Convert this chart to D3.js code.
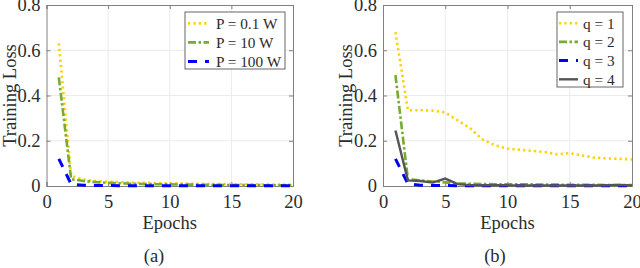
<!DOCTYPE html>
<html>
<head>
<meta charset="utf-8">
<script src="https://cdn.jsdelivr.net/npm/d3@7"></script>
<style>
  body { margin: 0; background: white; }
  text { font-family: "Liberation Serif", "Times New Roman", serif; fill: #2b2b2b; }
</style>
</head>
<body>
<svg id="chart" width="640" height="268"></svg>
<script>
// epochs on x axis
let epochs = d3.range(1, 21);
let xTicks = [0, 5, 10, 15, 20];
let yTicks = [0, 0.2, 0.4, 0.6, 0.8];

// panel (a) series
let lossP01 = [0.63, 0.045, 0.028, 0.022, 0.019, 0.017, 0.015, 0.014, 0.013, 0.012, 0.011, 0.010, 0.009, 0.009, 0.008, 0.008, 0.007, 0.007, 0.006, 0.006];
let lossP10 = [0.48, 0.030, 0.022, 0.017, 0.014, 0.012, 0.010, 0.009, 0.008, 0.007, 0.006, 0.006, 0.005, 0.005, 0.004, 0.004, 0.004, 0.003, 0.003, 0.003];
let lossP100 = [0.12, 0.008, 0.003, 0.002, 0.002, 0.001, 0.001, 0.001, 0.001, 0.001, 0.001, 0.001, 0.001, 0.001, 0.001, 0.001, 0.001, 0.001, 0.001, 0.001];

// panel (b) series
let lossQ1 = [0.68, 0.335, 0.335, 0.333, 0.325, 0.29, 0.255, 0.205, 0.18, 0.165, 0.16, 0.155, 0.15, 0.14, 0.145, 0.135, 0.125, 0.122, 0.12, 0.117];
let lossQ2 = [0.49, 0.030, 0.025, 0.020, 0.016, 0.011, 0.010, 0.009, 0.008, 0.008, 0.007, 0.007, 0.006, 0.006, 0.005, 0.005, 0.005, 0.004, 0.004, 0.004];
let lossQ3 = [0.12, 0.010, 0.003, 0.002, 0.002, 0.001, 0.001, 0.001, 0.001, 0.001, 0.001, 0.001, 0.001, 0.001, 0.001, 0.001, 0.001, 0.001, 0.001, 0.001];
let lossQ4 = [0.245, 0.025, 0.022, 0.015, 0.033, 0.008, 0.004, 0.003, 0.003, 0.003, 0.002, 0.002, 0.002, 0.002, 0.002, 0.002, 0.002, 0.003, 0.005, 0.002];

let styles = {
    yellow: { color: "#FFD100", width: 2.6, dash: "2.2,3.2" },
    green:  { color: "#77AC30", width: 2.6, dash: "8,2.5,2.5,2.5" },
    blue:   { color: "#0000FF", width: 3, dash: "9,8" },
    gray:   { color: "#555555", width: 2.4, dash: null }
};

let panels = [
    {
        left: 46.5, right: 293, caption: "(a)", captionX: 154,
        legend: { x: 185, y: 12, w: 100, h: 57, rowH: 19, lineX1: 3, lineX2: 24, textX: 31 },
        series: [
            { name: "P = 0.1 W", values: lossP01, style: styles.yellow },
            { name: "P = 10 W", values: lossP10, style: styles.green },
            { name: "P = 100 W", values: lossP100, style: styles.blue }
        ]
    },
    {
        left: 383, right: 632, caption: "(b)", captionX: 495,
        legend: { x: 557, y: 12, w: 66, h: 75, rowH: 18.7, lineX1: 2, lineX2: 21, textX: 26 },
        series: [
            { name: "q = 1", values: lossQ1, style: styles.yellow },
            { name: "q = 2", values: lossQ2, style: styles.green },
            { name: "q = 3", values: lossQ3, style: styles.blue },
            { name: "q = 4", values: lossQ4, style: styles.gray }
        ]
    }
];

let plotTop = 5, plotBottom = 186;
let svg = d3.select("#chart");

panels.forEach(function(p) {
    let x = d3.scaleLinear().domain([0, 20]).range([p.left, p.right]);
    let y = d3.scaleLinear().domain([0, 0.8]).range([plotBottom, plotTop]);
    let g = svg.append("g");

    // grid
    g.append("g").selectAll("line").data(xTicks.slice(1, -1)).enter().append("line")
        .attr("x1", d => x(d)).attr("x2", d => x(d))
        .attr("y1", plotTop).attr("y2", plotBottom)
        .attr("stroke", "#ebebeb").attr("stroke-width", 1);
    g.append("g").selectAll("line").data(yTicks.slice(1, -1)).enter().append("line")
        .attr("x1", p.left).attr("x2", p.right)
        .attr("y1", d => y(d)).attr("y2", d => y(d))
        .attr("stroke", "#ebebeb").attr("stroke-width", 1);

    // axes, ticks inward on all four sides
    let xAxis = d3.axisBottom(x).tickValues(xTicks).tickSize(-4).tickPadding(9).tickFormat(d3.format("d"));
    let yAxis = d3.axisLeft(y).tickValues(yTicks).tickSize(-4).tickPadding(6)
        .tickFormat(d => d === 0 ? "0" : d3.format(".1f")(d));
    let xTop = d3.axisTop(x).tickValues(xTicks).tickSize(-4).tickFormat("");
    let yRight = d3.axisRight(y).tickValues(yTicks).tickSize(-4).tickFormat("");

    [[xAxis, `translate(0,${plotBottom})`], [yAxis, `translate(${p.left},0)`],
     [xTop, `translate(0,${plotTop})`], [yRight, `translate(${p.right},0)`]].forEach(function(a) {
        let ax = g.append("g").attr("transform", a[1]).call(a[0]);
        ax.select(".domain").attr("stroke", "#808080").attr("stroke-width", 1);
        ax.selectAll(".tick line").attr("stroke", "#808080");
        ax.selectAll(".tick text").style("font-family", "Liberation Serif").style("font-size", "18.5px").attr("fill", "#2b2b2b");
    });

    // lines
    let line = d3.line().x((d, i) => x(epochs[i])).y(d => y(d));
    p.series.forEach(function(s) {
        g.append("path")
            .datum(s.values)
            .attr("d", line)
            .attr("fill", "none")
            .attr("stroke", s.style.color)
            .attr("stroke-width", s.style.width)
            .attr("stroke-dasharray", s.style.dash);
    });

    // labels
    g.append("text")
        .attr("x", (p.left + p.right) / 2).attr("y", 229)
        .attr("text-anchor", "middle")
        .style("font-size", "18.5px")
        .text("Epochs");
    g.append("text")
        .attr("transform", `translate(${p.left - 31},${(plotTop + plotBottom) / 2}) rotate(-90)`)
        .attr("text-anchor", "middle")
        .style("font-size", "18.5px")
        .text("Training Loss");
    g.append("text")
        .attr("x", p.captionX).attr("y", 262)
        .attr("text-anchor", "middle")
        .style("font-size", "18.5px")
        .text(p.caption);

    // legend
    let L = p.legend;
    g.append("rect")
        .attr("x", L.x).attr("y", L.y).attr("width", L.w).attr("height", L.h)
        .attr("fill", "white").attr("stroke", "#666").attr("stroke-width", 1);
    let rows = g.selectAll(".legend-row").data(p.series).enter().append("g")
        .attr("transform", (d, i) => `translate(${L.x}, ${L.y + L.rowH * (i + 0.6)})`);
    rows.append("line")
        .attr("x1", L.lineX1).attr("x2", L.lineX2).attr("y1", 0).attr("y2", 0)
        .attr("stroke", d => d.style.color)
        .attr("stroke-width", d => d.style.width)
        .attr("stroke-dasharray", d => d.style.dash);
    rows.append("text")
        .attr("x", L.textX).attr("y", 0).attr("dy", "0.35em")
        .style("font-size", "15.3px")
        .text(d => d.name);
});
</script>
</body>
</html>
